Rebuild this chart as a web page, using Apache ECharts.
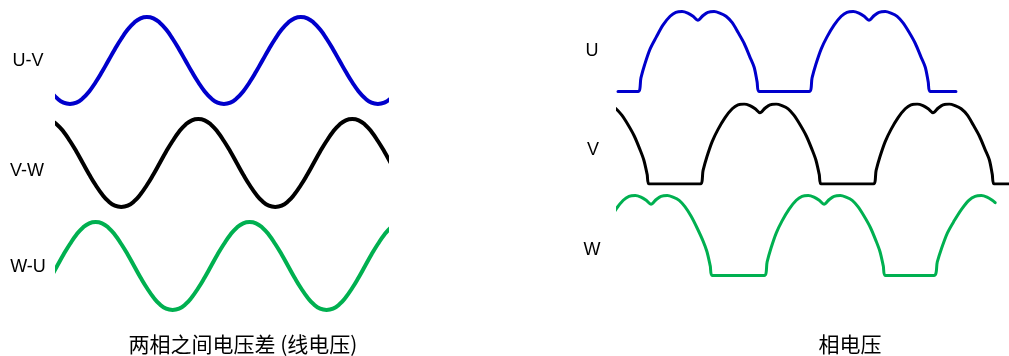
<!DOCTYPE html>
<html>
<head>
<meta charset="utf-8">
<script src="https://cdn.jsdelivr.net/npm/echarts@6/dist/echarts.min.js"></script>
<style>
html,body{margin:0;padding:0;background:#fff;}
#c{width:1009px;height:356px;}
</style>
</head>
<body>
<div id="c"></div>
<script>
// ---- Left panel: line-to-line voltages (electrical angle in degrees) ----
var lineAngles = [-135,-120,-105,-90,-75,-60,-45,-30,-15,0,15,30,45,60,75,90,105,120,135,150,165,180,195,210,225,240,255,270,285,300,315,330,345,360,375,390,405,420,435,450,465,480,495,510,525,540,555,570,585,600,615,630,645,660,675];
var uvValues = [-.71,-.87,-.97,-1,-.97,-.87,-.71,-.5,-.26,0,.26,.5,.71,.87,.97,1,.97,.87,.71,.5,.26,0,-.26,-.5,-.71,-.87,-.97,-1,-.97,-.87,-.71,-.5,-.26,0,.26,.5,.71,.87,.97,1,.97,.87,.71,.5,.26,0,-.26,-.5,-.71,-.87,-.97,-1,-.97,-.87,-.71];
var vwValues = [.97,.87,.71,.5,.26,0,-.26,-.5,-.71,-.87,-.97,-1,-.97,-.87,-.71,-.5,-.26,0,.26,.5,.71,.87,.97,1,.97,.87,.71,.5,.26,0,-.26,-.5,-.71,-.87,-.97,-1,-.97,-.87,-.71,-.5,-.26,0,.26,.5,.71,.87,.97,1,.97,.87,.71,.5,.26,0,-.26];
var wuValues = [-.26,0,.26,.5,.71,.87,.97,1,.97,.87,.71,.5,.26,0,-.26,-.5,-.71,-.87,-.97,-1,-.97,-.87,-.71,-.5,-.26,0,.26,.5,.71,.87,.97,1,.97,.87,.71,.5,.26,0,-.26,-.5,-.71,-.87,-.97,-1,-.97,-.87,-.71,-.5,-.26,0,.26,.5,.71,.87,.97];
var lineRange = [-120.3, 651.3];

// ---- Right panel: phase voltages (angle in degrees, value 0..1) ----
var uAngles = [0,42,48,56,67,80,94,109,121,134,146,157,167,178,188,201,213,226,239,251,264,276,285,291,295,400,406,414,425,437,452,467,479,492,504,515,525,536,546,559,571,584,596,609,622,634,643,649,653,707];
var uValues = [0,0,.17,.34,.53,.68,.83,.94,.99,1,.98,.94,.89,.95,.99,1,.98,.94,.86,.74,.6,.43,.3,.12,0,0,.17,.34,.53,.68,.83,.94,.99,1,.98,.94,.89,.95,.99,1,.98,.94,.86,.74,.6,.43,.3,.12,0,0];
var vAngles = [-17,-4,8,21,34,46,54,61,65,172,178,186,197,209,224,239,251,264,276,287,297,308,318,331,343,356,368,381,394,406,414,421,425,534,540,548,559,571,586,601,613,626,638,649,659,670,680,693,705,718,731,743,756,768,777,783,787,820];
var vValues = [.98,.94,.86,.74,.6,.43,.3,.12,0,0,.17,.34,.53,.68,.83,.94,.99,1,.98,.94,.89,.95,.99,1,.98,.94,.86,.74,.6,.43,.3,.12,0,0,.17,.34,.53,.68,.83,.94,.99,1,.98,.94,.89,.95,.99,1,.98,.94,.86,.74,.6,.43,.3,.12,0,0];
var wAngles = [-19,-4,11,23,36,48,59,69,80,90,103,115,128,140,153,165,178,186,193,197,306,312,320,331,343,358,373,385,398,410,421,431,442,452,465,477,490,502,515,528,540,548,555,559,661,668,677,689,703,719,734,747,760,772,783,789];
var wValues = [.68,.83,.94,.99,1,.98,.94,.89,.95,.99,1,.98,.94,.86,.74,.6,.43,.3,.12,0,0,.17,.34,.53,.68,.83,.94,.99,1,.98,.94,.89,.95,.99,1,.98,.94,.86,.74,.6,.43,.3,.12,0,0,.17,.34,.53,.68,.83,.94,.99,1,.98,.94,.91];
var phaseRange = [0, 818];

var leftLabels = ['U-V', 'V-W', 'W-U'];
var rightLabels = ['U', 'V', 'W'];
var titles = ['两相之间电压差 (线电压)', '相电压'];

function pairs(xs, ys) { return xs.map(function (x, i) { return [x, ys[i]]; }); }

var BLUE = '#0000cc', BLACK = '#000000', GREEN = '#00b050';

var grids = [
  {left: 57, width: 330, top: 17, height: 87},
  {left: 57, width: 330, top: 119, height: 88},
  {left: 57, width: 330, top: 222, height: 88},
  {left: 618, width: 391, top: 11.5, height: 80},
  {left: 618, width: 391, top: 104, height: 80},
  {left: 618, width: 391, top: 195.5, height: 80}
];
grids.forEach(function (g) { g.containLabel = false; g.show = false; });

var xAxes = [], yAxes = [];
for (var i = 0; i < 6; i++) {
  var r = i < 3 ? lineRange : phaseRange;
  xAxes.push({type: 'value', gridIndex: i, min: r[0], max: r[1], show: false});
  yAxes.push({type: 'value', gridIndex: i, min: i < 3 ? -1 : 0, max: 1, show: false});
}

var seriesDefs = [
  [pairs(lineAngles, uvValues), BLUE, 4, 0.5],
  [pairs(lineAngles, vwValues), BLACK, 4, 0.5],
  [pairs(lineAngles, wuValues), GREEN, 4, 0.5],
  [pairs(uAngles, uValues), BLUE, 3, 0.3],
  [pairs(vAngles, vValues), BLACK, 3, 0.3],
  [pairs(wAngles, wValues), GREEN, 3, 0.3]
];
var series = seriesDefs.map(function (d, i) {
  return {
    type: 'line', xAxisIndex: i, yAxisIndex: i, data: d[0],
    smooth: d[3], showSymbol: false, symbol: 'none', clip: true,
    lineStyle: {color: d[1], width: d[2], cap: 'round', join: 'round'},
    silent: true
  };
});

function txt(t, x, y, size, family) {
  return {
    type: 'text', silent: true,
    style: {
      text: t, x: x, y: y, fill: '#000',
      font: size + 'px ' + family,
      align: 'center', verticalAlign: 'middle',
      textAlign: 'center', textVerticalAlign: 'middle'
    }
  };
}
var latin = '"Liberation Sans", Arial, sans-serif';
var cjk = '"Noto Sans CJK SC", sans-serif';
var graphics = [
  txt(leftLabels[0], 28, 61.5, 18, latin),
  txt(leftLabels[1], 27, 171.5, 18, latin),
  txt(leftLabels[2], 28, 267.5, 18, latin),
  txt(rightLabels[0], 592, 51, 18, latin),
  txt(rightLabels[1], 593, 150.5, 18, latin),
  txt(rightLabels[2], 592, 250.5, 18, latin),
  txt(titles[0], 243, 344, 21, cjk),
  txt(titles[1], 850, 344, 21, cjk)
];

var chart = echarts.init(document.getElementById('c'), null, {renderer: 'canvas'});
chart.setOption({
  animation: false,
  backgroundColor: '#fff',
  grid: grids,
  xAxis: xAxes,
  yAxis: yAxes,
  series: series,
  graphic: graphics
});
</script>
</body>
</html>
